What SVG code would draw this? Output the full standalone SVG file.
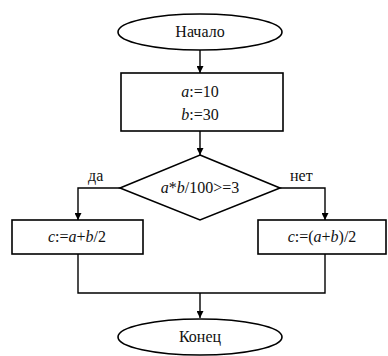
<svg xmlns="http://www.w3.org/2000/svg" width="388" height="356" viewBox="0 0 388 356">
  <style>
    .shape { fill: #ffffff; stroke: #000000; stroke-width: 1.6; }
    .line { fill: none; stroke: #000000; stroke-width: 1.4; }
    text { font-family: "Liberation Serif", "Times New Roman", serif; font-size: 16px; fill: #111111; }
    .c { text-anchor: middle; }
    .i { font-style: italic; }
  </style>
  <defs>
    <marker id="arrow" viewBox="0 0 10 10" refX="10" refY="5" markerWidth="7" markerHeight="7" markerUnits="userSpaceOnUse" orient="auto">
      <path d="M0,0 L10,5 L0,10 z" fill="#000000"/>
    </marker>
  </defs>

  <rect width="388" height="356" fill="#ffffff"/>

  <!-- connectors: plain black lines ending in filled arrowheads -->
  <g id="connectors">
    <line class="line" x1="200" y1="50" x2="200" y2="73" marker-end="url(#arrow)"/>
    <line class="line" x1="200" y1="131" x2="200" y2="155" marker-end="url(#arrow)"/>
    <polyline class="line" points="120,188 78,188 78,220" marker-end="url(#arrow)"/>
    <polyline class="line" points="280,188 325,188 325,220" marker-end="url(#arrow)"/>
    <polyline class="line" points="78,254 78,293 325,293 325,254"/>
    <line class="line" x1="200" y1="293" x2="200" y2="318" marker-end="url(#arrow)"/>
    <text x="88" y="181">да</text>
    <text x="290" y="181">нет</text>
  </g>

  <g id="start">
    <ellipse class="shape" cx="200" cy="32" rx="82" ry="18"/>
    <text class="c" x="200" y="37">Начало</text>
  </g>

  <g id="init">
    <rect class="shape" x="121" y="73" width="162" height="58"/>
    <text class="c" x="200" y="97"><tspan class="i">a</tspan>:=10</text>
    <text class="c" x="200" y="120"><tspan class="i">b</tspan>:=30</text>
  </g>

  <g id="condition">
    <polygon class="shape" points="200,155 280,188 200,220 120,188"/>
    <text class="c" x="200" y="193"><tspan class="i">a</tspan>*<tspan class="i">b</tspan>/100&gt;=3</text>
  </g>

  <g id="branch-yes">
    <rect class="shape" x="12" y="220" width="131" height="34"/>
    <text class="c" x="77" y="242"><tspan class="i">c</tspan>:=<tspan class="i">a</tspan>+<tspan class="i">b</tspan>/2</text>
  </g>

  <g id="branch-no">
    <rect class="shape" x="258" y="220" width="128" height="34"/>
    <text class="c" x="322" y="242"><tspan class="i">c</tspan>:=(<tspan class="i">a</tspan>+<tspan class="i">b</tspan>)/2</text>
  </g>

  <g id="end">
    <ellipse class="shape" cx="200" cy="337" rx="82" ry="18"/>
    <text class="c" x="200" y="342">Конец</text>
  </g>
</svg>
